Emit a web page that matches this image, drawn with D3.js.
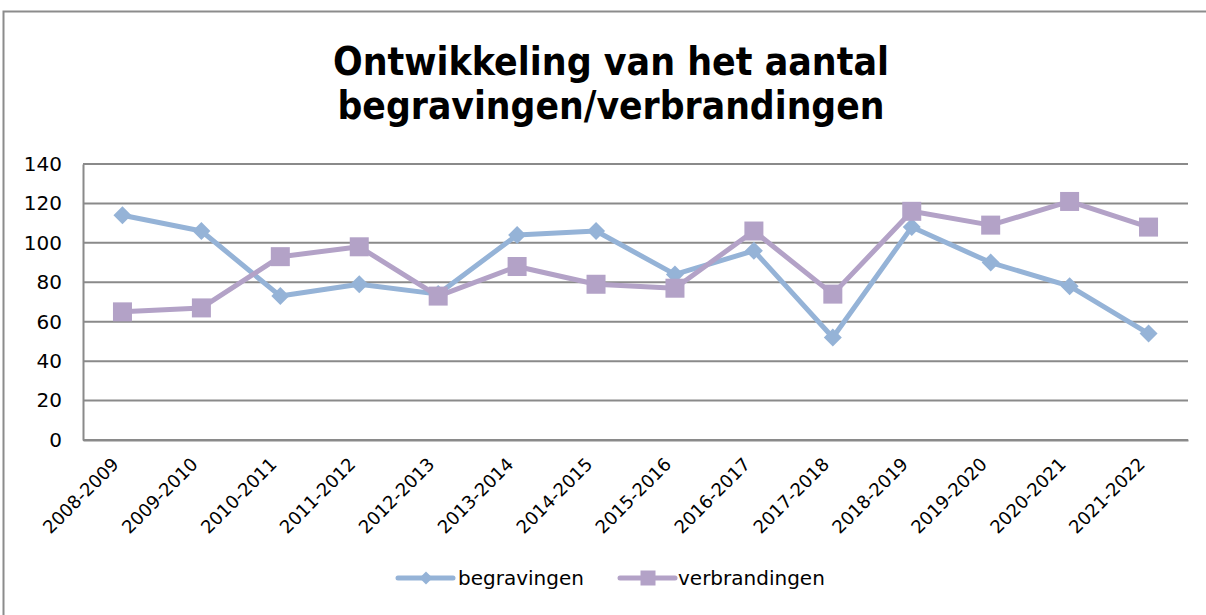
<!DOCTYPE html>
<html>
<head>
<meta charset="utf-8">
<script src="https://cdn.jsdelivr.net/npm/d3@7"></script>
<style>
  html, body { margin: 0; padding: 0; background: #fff; }
  svg { display: block; }
  text { font-family: "DejaVu Sans", sans-serif; fill: #000; }
</style>
</head>
<body>
<svg id="chart" width="1206" height="615"></svg>
<script>
const titleLines = ["Ontwikkeling van het aantal", "begravingen/verbrandingen"];
const categories = ["2008-2009","2009-2010","2010-2011","2011-2012","2012-2013","2013-2014","2014-2015","2015-2016","2016-2017","2017-2018","2018-2019","2019-2020","2020-2021","2021-2022"];
const begravingen = [114, 106, 73, 79, 74, 104, 106, 84, 96, 52, 108, 90, 78, 54];
const verbrandingen = [65, 67, 93, 98, 73, 88, 79, 77, 106, 74, 116, 109, 121, 108];
const yTicks = [0, 20, 40, 60, 80, 100, 120, 140];
const seriesNames = ["begravingen", "verbrandingen"];
const seriesColors = ["#95B3D7", "#B3A2C7"];

const svg = d3.select("#chart");
const W = 1206, H = 615;
const plot = {left: 83, right: 1188, top: 164, bottom: 440};

// outer chart border
svg.append("rect").attr("x", 3.5).attr("y", 11.5).attr("width", W + 10).attr("height", H + 10)
  .attr("fill", "none").attr("stroke", "#8c8c8c").attr("stroke-width", 2);

// title
const titleY = [75, 119];
const titleW = [556, 547];
titleLines.forEach((t, i) => {
  svg.append("text").attr("x", 611).attr("y", titleY[i]).attr("text-anchor", "middle")
    .attr("font-size", 39).attr("font-weight", "bold")
    .attr("textLength", titleW[i]).attr("lengthAdjust", "spacingAndGlyphs")
    .text(t);
});

const x = d3.scaleBand().domain(categories).range([plot.left, plot.right]);
const y = d3.scaleLinear().domain([0, 140]).range([plot.bottom, plot.top]);

// gridlines
svg.append("g").selectAll("line").data(yTicks).join("line")
  .attr("x1", plot.left).attr("x2", plot.right)
  .attr("y1", d => y(d)).attr("y2", d => y(d))
  .attr("stroke", "#8a8a8a").attr("stroke-width", 2);

// y axis
const yAxis = svg.append("g").attr("transform", `translate(${plot.left},0)`)
  .call(d3.axisLeft(y).tickValues(yTicks).tickSize(0).tickPadding(21));
yAxis.select(".domain").attr("stroke", "#8a8a8a").attr("stroke-width", 2);
yAxis.selectAll("text").attr("font-size", 20).attr("font-family", "DejaVu Sans").attr("fill", "#000");

// x axis
const xAxis = svg.append("g").attr("transform", `translate(0,${plot.bottom})`)
  .call(d3.axisBottom(x).tickSize(0).tickPadding(0));
xAxis.select(".domain").attr("stroke", "#8a8a8a").attr("stroke-width", 2);
xAxis.selectAll("text")
  .attr("font-size", 18).attr("font-family", "DejaVu Sans").attr("fill", "#000")
  .attr("text-anchor", "end").attr("dy", "0.35em")
  .attr("transform", "translate(-7,21) rotate(-45)");

const cx = d => x(d) + x.bandwidth() / 2;
const line = d3.line().x((d, i) => cx(categories[i])).y(d => y(d));

const series = [begravingen, verbrandingen];
const diamond = s => `M0,${-s}L${s},0L0,${s}L${-s},0Z`;

series.forEach((vals, si) => {
  const g = svg.append("g");
  g.append("path").datum(vals).attr("d", line).attr("fill", "none")
    .attr("stroke", seriesColors[si]).attr("stroke-width", 5).attr("stroke-linejoin", "round");
  if (si === 0) {
    g.selectAll("path.m").data(vals).join("path").attr("class", "m")
      .attr("d", diamond(9))
      .attr("transform", (d, i) => `translate(${cx(categories[i])},${y(d)})`)
      .attr("fill", seriesColors[si]);
  } else {
    g.selectAll("rect.m").data(vals).join("rect").attr("class", "m")
      .attr("x", (d, i) => cx(categories[i]) - 9.5).attr("y", d => y(d) - 9.5)
      .attr("width", 19).attr("height", 19)
      .attr("fill", seriesColors[si]);
  }
});

// legend
const legendItems = [{x: 398, tx: 458}, {x: 620, tx: 678}];
legendItems.forEach((L, i) => {
  const g = svg.append("g");
  const ly = 578;
  g.append("line").attr("x1", L.x).attr("x2", L.x + 55).attr("y1", ly).attr("y2", ly)
    .attr("stroke", seriesColors[i]).attr("stroke-width", 5).attr("stroke-linecap", "round");
  if (i === 0) {
    g.append("path").attr("d", diamond(6.5)).attr("transform", `translate(${L.x + 28},${ly})`).attr("fill", seriesColors[i]);
  } else {
    g.append("rect").attr("x", L.x + 28 - 7.5).attr("y", ly - 7.5).attr("width", 15).attr("height", 15).attr("fill", seriesColors[i]);
  }
  g.append("text").attr("x", L.tx).attr("y", ly).attr("dy", "0.35em").attr("font-size", 20).text(seriesNames[i]);
});
</script>
</body>
</html>
